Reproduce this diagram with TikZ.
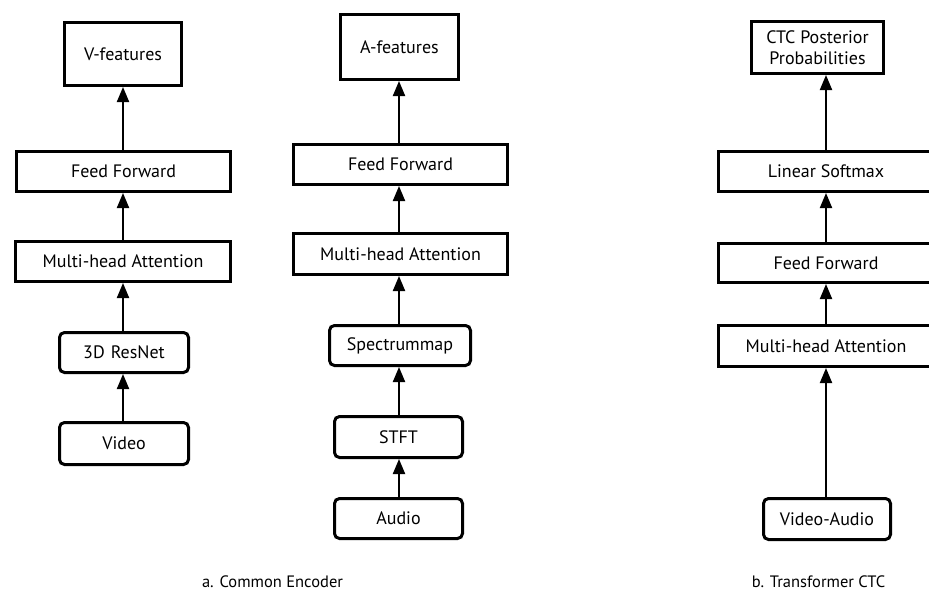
\documentclass[tikz,border=0pt]{standalone}
\usepackage{fontspec}
\setmainfont{PT Sans}
\usetikzlibrary{arrows.meta}
\begin{document}
\begin{tikzpicture}[x=1pt,y=-1pt,
  box/.style={draw=black,line width=3pt,fill=white,inner sep=0pt,align=center,
    font=\fontsize{18}{21}\selectfont},
  rbox/.style={box,rounded corners=5pt},
  arr/.style={line width=2pt,-{Triangle[length=15pt,width=12pt]}},
  captext/.style={font=\fontsize{16.5}{18}\selectfont}]
\useasboundingbox (0,0) rectangle (929,594);
\coordinate (xa) at (123,0);
\coordinate (xb) at (399,0);
\coordinate (xc) at (826,0);
% column a (video)
\node[box,minimum width=117pt,minimum height=63pt] (vfeat) at (123,54) {V-features};
\node[box,minimum width=214pt,minimum height=40pt] (ff1) at (123.5,171.5) {Feed Forward};
\node[box,minimum width=215pt,minimum height=40pt] (mha1) at (123,261.5) {Multi-head Attention};
\node[rbox,minimum width=129pt,minimum height=40pt] (resnet) at (124,352.5) {3D\,\,ResNet};
\node[rbox,minimum width=129pt,minimum height=42pt] (video) at (124,443.5) {Video};
% column a (audio)
\node[box,minimum width=118pt,minimum height=65pt] (afeat) at (399.5,47) {A-features};
\node[box,minimum width=214pt,minimum height=40pt] (ff2) at (400.5,164.5) {Feed Forward};
\node[box,minimum width=214pt,minimum height=41pt] (mha2) at (400.5,254) {Multi-head Attention};
\node[rbox,minimum width=141pt,minimum height=40pt] (spec) at (400,345.5) {Spectrummap};
\node[rbox,minimum width=128pt,minimum height=41pt] (stft) at (398.5,437) {STFT};
\node[rbox,minimum width=128pt,minimum height=40pt] (audio) at (398.5,518.5) {Audio};
% column b
\node[box,minimum width=132pt,minimum height=52pt] (ctc) at (817.5,47.5) {CTC Posterior\\Probabilities};
\node[box,minimum width=215pt,minimum height=40pt] (lin) at (826,171.5) {Linear Softmax};
\node[box,minimum width=215pt,minimum height=39pt] (ff3) at (826,263) {Feed Forward};
\node[box,minimum width=215pt,minimum height=41pt] (mha3) at (826,346) {Multi-head Attention};
\node[rbox,minimum width=127pt,minimum height=41pt] (va) at (827,519) {Video-Audio};
% arrows
\draw[arr] (xa |- video.north) -- (xa |- resnet.south);
\draw[arr] (xa |- resnet.north) -- (xa |- mha1.south);
\draw[arr] (xa |- mha1.north) -- (xa |- ff1.south);
\draw[arr] (xa |- ff1.north) -- (xa |- vfeat.south);
\draw[arr] (xb |- audio.north) -- (xb |- stft.south);
\draw[arr] (xb |- stft.north) -- (xb |- spec.south);
\draw[arr] (xb |- spec.north) -- (xb |- mha2.south);
\draw[arr] (xb |- mha2.north) -- (xb |- ff2.south);
\draw[arr] (xb |- ff2.north) -- (xb |- afeat.south);
\draw[arr] (xc |- va.north) -- (xc |- mha3.south);
\draw[arr] (xc |- mha3.north) -- (xc |- ff3.south);
\draw[arr] (xc |- ff3.north) -- (xc |- lin.south);
\draw[arr] (xc |- lin.north) -- (xc |- ctc.south);
% captions
\node[captext] (capa) at (272.5,582) {a. Common Encoder};
\node[captext] (capb) at (818.5,582) {b. Transformer CTC};
\end{tikzpicture}
\end{document}
